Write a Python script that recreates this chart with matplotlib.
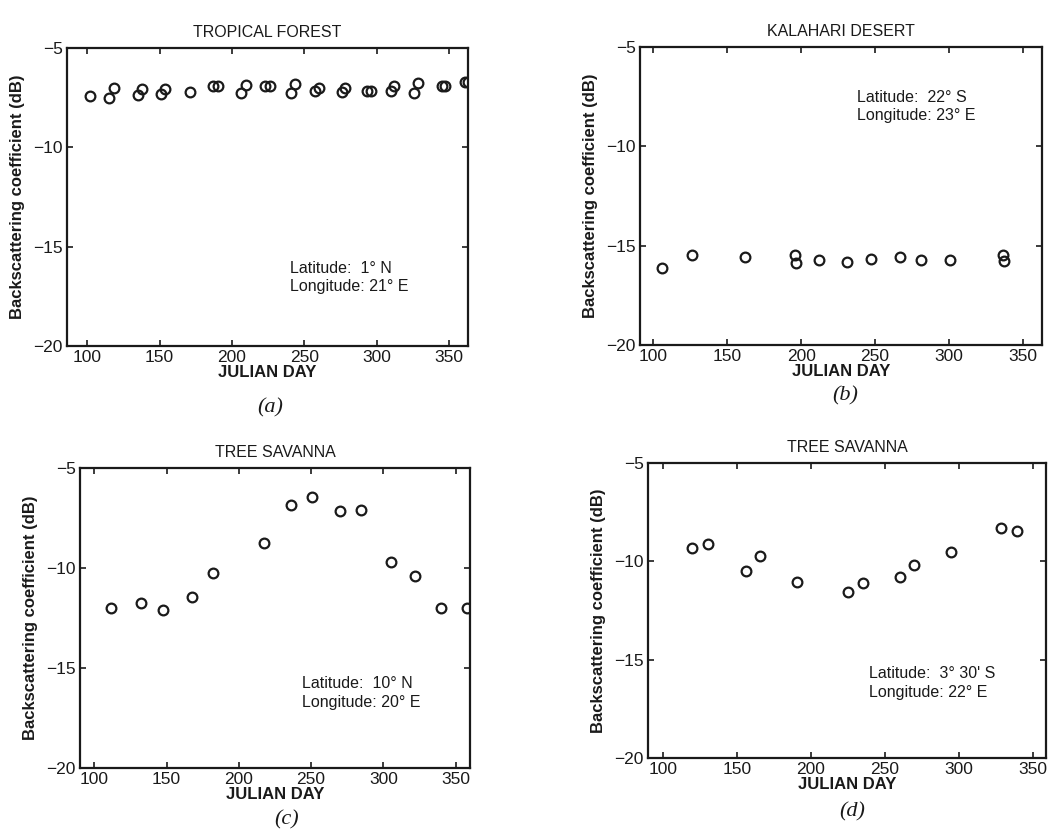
import matplotlib
matplotlib.use('Agg')
from matplotlib import pyplot as plt

plt.rcParams['font.family'] = ['Liberation Sans', 'DejaVu Sans']

# (a) tropical forest
DAY_A = [101.6, 115, 118.5, 135, 138, 151, 154, 171, 187, 190, 206, 209.5, 223, 226,
         241, 243.5, 257, 260, 276, 278, 293, 296, 310, 312, 326, 328.5, 345, 347, 361, 363]
SIG_A = [-7.4, -7.5, -7.0, -7.35, -7.05, -7.3, -7.05, -7.2, -6.9, -6.9, -7.25, -6.85, -6.9, -6.9,
         -7.25, -6.8, -7.15, -7.0, -7.2, -7.0, -7.15, -7.15, -7.15, -6.9, -7.25, -6.75, -6.9, -6.9, -6.7, -6.7]

# (b) kalahari desert
DAY_B = [106, 126, 162, 196, 196.5, 212, 231, 247, 267, 281, 301, 336.5, 337]
SIG_B = [-16.1, -15.45, -15.57, -15.45, -15.85, -15.7, -15.8, -15.67, -15.57, -15.74, -15.7, -15.45, -15.75]

# (c) tree savanna, 10 N
DAY_C = [111.4, 132, 147.3, 167.6, 182.4, 217.2, 236, 250.6, 270, 284.8, 305, 322, 340, 358]
SIG_C = [-12.0, -11.73, -12.1, -11.43, -10.27, -8.73, -6.85, -6.43, -7.15, -7.1, -9.7, -10.4, -12.0, -12.0]

# (d) tree savanna, 3 30 S
DAY_D = [120, 130.5, 156.2, 165.9, 191, 225.2, 235, 260, 270, 294.7, 328.7, 339.2]
SIG_D = [-9.34, -9.13, -10.49, -9.73, -11.03, -11.54, -11.08, -10.81, -10.19, -9.54, -8.32, -8.44]

TITLES = ['TROPICAL FOREST', 'KALAHARI DESERT', 'TREE SAVANNA', 'TREE SAVANNA']
LOCS = [('Latitude:  1\u00b0 N', 'Longitude: 21\u00b0 E'),
        ('Latitude:  22\u00b0 S', 'Longitude: 23\u00b0 E'),
        ('Latitude:  10\u00b0 N', 'Longitude: 20\u00b0 E'),
        ('Latitude:  3\u00b0 30\' S', 'Longitude: 22\u00b0 E')]
TAGS = ['(a)', '(b)', '(c)', '(d)']
XTICKS = [100, 150, 200, 250, 300, 350]
YTICKS = [-20, -15, -10, -5]

W, H = 1050, 833
# axes boxes in pixels: left, top, right, bottom
BOXES = [(67, 48, 468, 346), (640, 47, 1042, 345), (80, 468, 470, 768), (648, 463, 1046, 758)]
XLIMS = [(86, 363), (91, 363), (90, 360), (90, 359)]
TEXT_POS = [(0.556, 0.23), (0.54, 0.80), (0.57, 0.25), (0.555, 0.255)]
TAG_POS = [(270, 408), (845, 396), (287, 820), (852, 812)]

fig = plt.figure(figsize=(W / 100, H / 100), dpi=100)
data = [(DAY_A, SIG_A), (DAY_B, SIG_B), (DAY_C, SIG_C), (DAY_D, SIG_D)]
for i, (days, sig) in enumerate(data):
    l, t, r, b = BOXES[i]
    ax = fig.add_axes([l / W, 1 - b / H, (r - l) / W, (b - t) / H])
    ax.plot(days, sig, linestyle='none', marker='o', markersize=7, markerfacecolor='none',
            markeredgecolor='#1a1a1a', markeredgewidth=1.6)
    ax.set_xlim(*XLIMS[i])
    ax.set_ylim(-20, -5)
    ax.set_xticks(XTICKS)
    ax.set_yticks(YTICKS)
    ax.tick_params(direction='in', top=True, right=True, length=4, width=1.2,
                   labelsize=12.5, pad=3, colors='#1a1a1a')
    for sp in ax.spines.values():
        sp.set_linewidth(1.6)
        sp.set_color('#1a1a1a')
    ax.set_title(TITLES[i], fontsize=11.5, pad=8, color='#1a1a1a')
    ax.set_xlabel('JULIAN DAY', fontsize=12, fontweight='bold', labelpad=0, color='#1a1a1a')
    ax.set_ylabel('Backscattering coefficient (dB)', fontsize=12, fontweight='bold',
                  labelpad=6, color='#1a1a1a')
    tx, ty = TEXT_POS[i]
    ax.text(tx, ty, LOCS[i][0] + '\n' + LOCS[i][1], transform=ax.transAxes,
            fontsize=11.5, va='center', ha='left', linespacing=1.3, color='#1a1a1a')
    px, py = TAG_POS[i]
    fig.text(px / W, 1 - py / H, TAGS[i], family='Liberation Serif', style='italic',
             fontsize=16, ha='center', va='center', color='#1a1a1a')

plt.savefig('out.png', dpi=100)
plt.close()
